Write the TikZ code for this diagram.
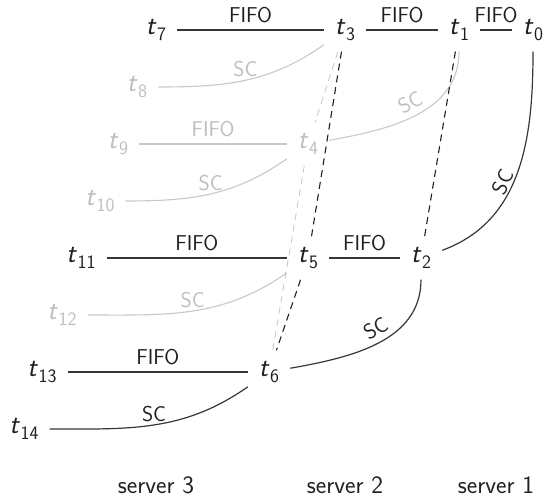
\documentclass[tikz,border=0pt]{standalone}
\definecolor{ink}{HTML}{231F20}
\definecolor{lite}{HTML}{BEBEBE}
\definecolor{lineblk}{HTML}{3A3536}
\definecolor{linegry}{HTML}{C8C8C8}
\newcommand\tv[1]{\textit{t}\kern0.5pt\raisebox{-5.5pt}{\fontsize{19}{21}\selectfont #1}}
\begin{document}
\begin{tikzpicture}[x=1pt,y=1pt,
  tn/.style={inner sep=11pt,font=\sffamily\fontsize{27.5}{31}\selectfont,text=ink},
  tg/.style={tn,text=lite},
  lab/.style={inner sep=0pt,font=\sffamily\fontsize{21.5}{24}\selectfont,text=ink},
  labg/.style={lab,text=lite},
  blk/.style={draw=lineblk,line width=1.2pt},
  gry/.style={draw=linegry,line width=1.1pt},
  dsh/.style={draw=ink,line width=1.1pt,dash pattern=on 7pt off 5pt},
  dshg/.style={draw=lite,line width=0.7pt,dash pattern=on 7pt off 5pt},
  srv/.style={inner sep=0pt,anchor=base,font=\sffamily\fontsize{25}{30}\selectfont,text=ink}
]
\useasboundingbox (0,0) rectangle (545,-497);
% nodes
\node[tn] (t7) at (156,-30) {\tv{7}};
\node[tn] (t3) at (345,-30) {\tv{3}};
\node[tn] (t1) at (459,-30) {\tv{1}};
\node[tn] (t0) at (533,-30) {\tv{0}};
\node[tg] (t8) at (137,-87) {\tv{8}};
\node[tg] (t9) at (118,-144) {\tv{9}};
\node[tg] (t4) at (308,-144) {\tv{4}};
\node[tg] (t10) at (100,-201) {\tv{10}};
\node[tn] (t11) at (81,-258) {\tv{11}};
\node[tn] (t5) at (308,-258) {\tv{5}};
\node[tn] (t2) at (421,-258) {\tv{2}};
\node[tg] (t12) at (62,-315) {\tv{12}};
\node[tn] (t13) at (42,-372) {\tv{13}};
\node[tn] (t6) at (269,-372) {\tv{6}};
\node[tn] (t14) at (24,-429) {\tv{14}};
\node[srv] (s3) at (156,-493) {server 3};
\node[srv] (s2) at (345,-493) {server 2};
\node[srv] (s1) at (496,-493) {server 1};
% gray connectors
\draw[gry] (t3) to[out=-145,in=0] node[labg,pos=0.5,above=3pt]{SC} (t8);
\draw[gry] (t9) -- node[labg,above=7pt]{FIFO} (t4);
\draw[gry] (t1) to[out=-90,in=10] node[labg,pos=0.5,sloped,above=6pt]{SC} (t4);
\draw[gry] (t4) to[out=-145,in=0] node[labg,pos=0.5,above=3pt]{SC} (t10);
\draw[gry] (t5) to[out=-145,in=0] node[labg,pos=0.5,above=3pt]{SC} (t12);
\draw[dshg] (t3) -- (t4);
\draw[dshg] (t4) -- (t6);
% black connectors
\draw[blk] (t7) -- node[lab,above=7pt]{FIFO} (t3);
\draw[blk] (t3) -- node[lab,above=7pt]{FIFO} (t1);
\draw[blk] (t1) -- node[lab,above=7pt]{FIFO} (t0);
\draw[blk] (t11) -- node[lab,above=7pt]{FIFO} (t5);
\draw[blk] (t5) -- node[lab,above=7pt]{FIFO} (t2);
\draw[blk] (t13) -- node[lab,above=7pt]{FIFO} (t6);
\draw[blk] (t0) to[out=-90,in=20] node[lab,pos=0.57,sloped,above=2pt]{SC} (t2);
\draw[blk] (t2) to[out=-90,in=10] node[lab,pos=0.47,sloped,above=6pt]{SC} (t6);
\draw[blk] (t6) to[out=-145,in=0] node[lab,pos=0.5,above=3pt]{SC} (t14);
\draw[dsh] (t3) -- (t5);
\draw[dsh] (t5) -- (t6);
\draw[dsh] (t1) -- (t2);
\end{tikzpicture}
\end{document}
